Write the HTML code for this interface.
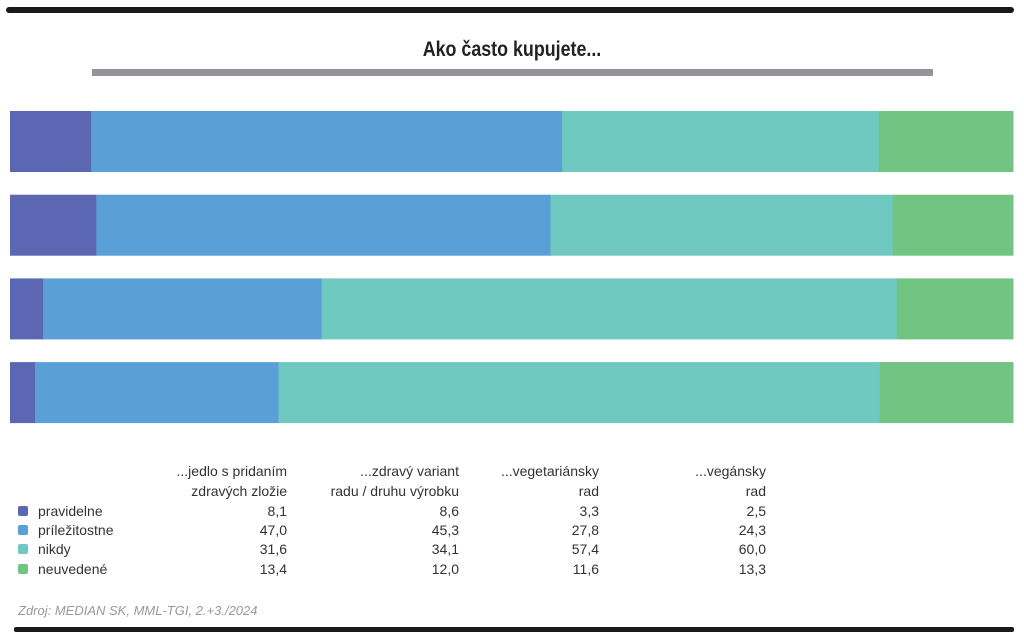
<!DOCTYPE html>
<html><head><meta charset="utf-8"><style>
body{margin:0;background:#fff;width:1024px;height:642px;overflow:hidden;position:relative;font-family:"Liberation Sans Narrow","Liberation Sans",sans-serif;}
.t{position:absolute;font-size:14px;color:#333;white-space:nowrap;line-height:16px}
.r{text-align:right}
</style></head><body>
<div style="position:absolute;left:6px;top:7px;width:1008px;height:6px;background:#1a1a1a;border-radius:3px"></div>
<div style="position:absolute;left:0;width:1024px;top:38px;text-align:center;font-size:21px;font-weight:bold;color:#222;transform:scaleX(0.85)">Ako často kupujete...</div>
<div style="position:absolute;left:92px;top:69px;width:841px;height:7px;background:#939398"></div>
<svg id="chart" style="position:absolute;left:0;top:0" width="1024" height="440"></svg>
<div id="tbl"></div>
<div class="t" style="left:18px;top:603px;font-style:italic;color:#999;font-size:13px">Zdroj: MEDIAN SK, MML-TGI, 2.+3./2024</div>
<div style="position:absolute;left:14px;top:627px;width:1000px;height:5px;background:#1a1a1a;border-radius:2px"></div>
<script>
const categories=["...jedlo s pridaním zdravých zložie","...zdravý variant radu / druhu výrobku","...vegetariánsky rad","...vegánsky rad"];
const seriesNames=["pravidelne","príležitostne","nikdy","neuvedené"];
const pravidelne=[8.1,8.6,3.3,2.5];
const prilezitostne=[47.0,45.3,27.8,24.3];
const nikdy=[31.6,34.1,57.4,60.0];
const neuvedene=[13.4,12.0,11.6,13.3];
const headers1=["...jedlo s pridaním","...zdravý variant","...vegetariánsky","...vegánsky"];
const headers2=["zdravých zložie","radu / druhu výrobku","rad","rad"];
const colors=["#5b67b3","#5a9fd6","#6fc9c0","#72c483"];
const series=[pravidelne,prilezitostne,nikdy,neuvedene];
const svg=document.getElementById('chart');
const x0=10,x1=1013,barTop=111,barStep=83.7,barH=61;
function yPos(i){return barTop+i*barStep;}
categories.forEach((c,i)=>{
  const tot=series.reduce((s,a)=>s+a[i],0);
  let acc=0;
  series.forEach((a,k)=>{
    const r=document.createElementNS('http://www.w3.org/2000/svg','rect');
    const xs=x0+(acc/tot)*(x1-x0), w=(a[i]/tot)*(x1-x0);
    r.setAttribute('x',xs);r.setAttribute('y',yPos(i));r.setAttribute('width',w+0.5);r.setAttribute('height',barH);r.setAttribute('fill',colors[k]);
    
    
    svg.appendChild(r);acc+=a[i];
  });
});
const tbl=document.getElementById('tbl');
const colRight=[287,459,599,766];
function addText(txt,left,top,right,name){
  const d=document.createElement('div');d.className='t'+(right?' r':'');
  d.textContent=txt;
  if(right){d.style.left=(left-200)+'px';d.style.width='200px';}else d.style.left=left+'px';
  d.style.top=top+'px';
  
  
  tbl.appendChild(d);
}
const rowTop=[503,522,541,561];
headers1.forEach((h,j)=>{addText(h,colRight[j],463,true,'column-header');addText(headers2[j],colRight[j],483,true,'column-header');});
seriesNames.forEach((n,k)=>{
  const sq=document.createElement('div');
  sq.style.cssText='position:absolute;left:18px;top:'+(rowTop[k]+3)+'px;width:10px;height:10px;border-radius:2px;background:'+colors[k];
  
  
  tbl.appendChild(sq);
  addText(n,38,rowTop[k],false,'legend-label');
  series[k].forEach((v,j)=>addText(v.toFixed(1).replace('.',','),colRight[j],rowTop[k],true,'value-cell'));
});
</script>
</body></html>
